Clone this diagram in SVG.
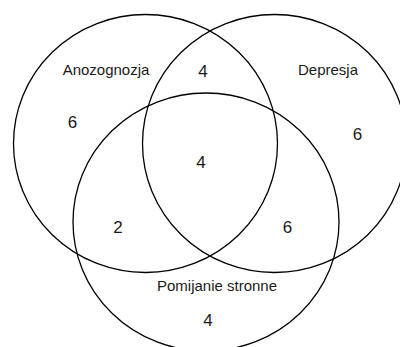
<svg xmlns="http://www.w3.org/2000/svg" width="400" height="347" viewBox="0 0 400 347">
<style>
.set{fill:none;stroke:#000;stroke-width:1.3}
.lbl{font-family:"Liberation Sans",Arial,sans-serif;font-size:15px;fill:#1a1a1a;text-anchor:middle}
.num{font-family:"Liberation Sans",Arial,sans-serif;font-size:17px;fill:#1a1a1a;text-anchor:middle}
</style>
<rect width="400" height="347" fill="#fff"/>
<g id="anozognozja">
<ellipse class="set" cx="145.5" cy="143.5" rx="132" ry="129"/>
<text class="lbl" x="106" y="75">Anozognozja</text>
<text class="num" x="72.5" y="128">6</text>
</g>
<g id="depresja">
<ellipse class="set" cx="274.5" cy="143.5" rx="132" ry="129"/>
<text class="lbl" x="328" y="75">Depresja</text>
<text class="num" x="357.5" y="140">6</text>
</g>
<g id="pomijanie">
<ellipse class="set" cx="206" cy="222" rx="133" ry="129"/>
<text class="lbl" x="217" y="291">Pomijanie stronne</text>
<text class="num" x="208" y="326">4</text>
</g>
<g id="intersections">
<text class="num" x="203" y="77">4</text>
<text class="num" x="201" y="168">4</text>
<text class="num" x="118" y="232.5">2</text>
<text class="num" x="287.5" y="232.5">6</text>
</g>
</svg>
